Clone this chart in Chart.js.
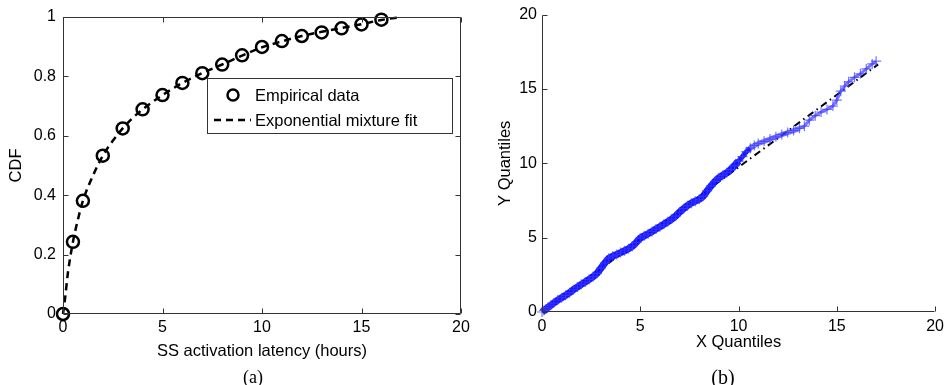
<!DOCTYPE html>
<html>
<head>
<meta charset="utf-8">
<script src="https://cdn.jsdelivr.net/npm/chart.js@4.4.1/dist/chart.umd.min.js"></script>
<style>
  html, body { margin: 0; padding: 0; background: #fff; }
  #wrap { position: relative; width: 949px; height: 385px; overflow: hidden; }
  .box { position: absolute; top: 0; height: 385px; }
  #leftBox { left: 0; width: 475px; }
  #rightBox { left: 475px; width: 474px; }
  .cap { position: absolute; font-family: "Liberation Serif", "Times New Roman", serif; color: #000; transform: translate(-50%, -50%); white-space: nowrap; }
</style>
</head>
<body>
<div id="wrap">
  <div class="box" id="leftBox"><canvas id="cdfChart"></canvas></div>
  <div class="box" id="rightBox"><canvas id="qqChart"></canvas></div>
  <div class="cap" style="left:253px; top:377px; font-size:18px;">(a)</div>
  <div class="cap" style="left:723px; top:377px; font-size:20px;">(b)</div>
</div>
<script>
// -------- DATA --------
// (a) empirical CDF of SS activation latency
const cdfX = [0, 0.5, 1, 2, 3, 4, 5, 6, 7, 8, 9, 10, 11, 12, 13, 14, 15, 16];
const cdfY = [0, 0.243, 0.381, 0.533, 0.625, 0.689, 0.737, 0.778, 0.811, 0.840, 0.871, 0.899, 0.919, 0.936, 0.948, 0.962, 0.975, 0.991];

// (a) exponential mixture fit
const fitX = [0, 0.1, 0.25, 0.5, 0.75, 1, 1.5, 2, 2.5, 3, 3.5, 4, 5, 6, 7, 8, 9, 10, 11, 12, 13, 14, 15, 16, 17];
const fitY = [0, 0.05, 0.14, 0.243, 0.318, 0.381, 0.465, 0.533, 0.583, 0.625, 0.66, 0.689, 0.737, 0.778, 0.811, 0.840, 0.870, 0.898, 0.918, 0.936, 0.950, 0.963, 0.976, 0.990, 1.0];

// (b) quantile-quantile points
const qqX = [0, 0.1, 0.2, 0.3, 0.45, 0.6, 0.8, 1.0, 1.2, 1.4, 1.6, 1.8, 2.0, 2.2, 2.4, 2.6, 2.8, 3.0,
  3.2, 3.4, 3.6, 3.8, 4.0, 4.2, 4.4, 4.6, 4.8, 5.0, 5.2, 5.4, 5.6, 5.8, 6.0, 6.2, 6.4, 6.6, 6.8,
  7.0, 7.2, 7.4, 7.6, 7.8, 8.0, 8.2, 8.4, 8.6, 8.8, 9.0, 9.2, 9.4, 9.6, 9.8, 10.0, 10.2, 10.4, 10.6,
  10.8, 11.0, 11.3, 11.6, 11.9, 12.2, 12.5, 12.8, 13.1, 13.35, 13.6, 13.9, 14.2, 14.5, 14.8, 15.0,
  15.2, 15.4, 15.6, 15.9, 16.2, 16.5, 16.8, 17.0];
const qqY = [0, 0.1, 0.2, 0.3, 0.45, 0.6, 0.8, 0.96, 1.12, 1.3, 1.5, 1.68, 1.86, 2.02, 2.2, 2.38, 2.6, 2.95,
  3.3, 3.62, 3.76, 3.86, 4.0, 4.12, 4.25, 4.42, 4.68, 4.97, 5.12, 5.26, 5.42, 5.58, 5.74, 5.9, 6.07, 6.25, 6.45,
  6.72, 6.95, 7.15, 7.32, 7.45, 7.58, 7.78, 8.14, 8.48, 8.78, 9.02, 9.2, 9.36, 9.58, 9.85, 10.15, 10.45, 10.78, 11.02,
  11.2, 11.33, 11.48, 11.63, 11.78, 11.93, 12.07, 12.2, 12.35, 12.5, 12.9, 13.2, 13.45, 13.62, 13.85, 14.25,
  14.85, 15.2, 15.48, 15.78, 16.02, 16.35, 16.68, 16.87];

// (b) reference line
const refX = [0, 17.1];
const refY = [0, 16.65];

const xTicksA = [0, 5, 10, 15, 20];
const yTicksA = [0, 0.2, 0.4, 0.6, 0.8, 1];
const ticksB = [0, 5, 10, 15, 20];

const sans = '"Liberation Sans", Arial, Helvetica, sans-serif';
const axisColor = '#333';

const toPoints = (xs, ys) => xs.map((x, i) => ({ x, y: ys[i] }));

// -------- PLUGINS --------
// MATLAB style inward ticks + axis lines
const innerTicks = {
  id: 'innerTicks',
  afterDraw(chart, args, opts) {
    const { ctx, chartArea: a, scales: { x, y } } = chart;
    const L = Math.round(a.left) + 0.5, R = Math.round(a.right) - 0.5;
    const T = Math.round(a.top) + 0.5, B = Math.round(a.bottom) - 0.5;
    ctx.save();
    ctx.strokeStyle = axisColor;
    ctx.lineWidth = 1;
    ctx.beginPath();
    if (opts.box) {
      ctx.rect(L, T, R - L, B - T);
    } else {
      ctx.moveTo(L, T); ctx.lineTo(L, B); ctx.lineTo(R, B);
    }
    x.ticks.forEach(t => {
      const px = Math.round(x.getPixelForValue(t.value)) + 0.5;
      ctx.moveTo(px, B); ctx.lineTo(px, B - opts.len);
      if (opts.box) { ctx.moveTo(px, T); ctx.lineTo(px, T + opts.len); }
    });
    y.ticks.forEach(t => {
      const py = Math.round(y.getPixelForValue(t.value)) + 0.5;
      ctx.moveTo(L, py); ctx.lineTo(L + opts.len, py);
      if (opts.box) { ctx.moveTo(R, py); ctx.lineTo(R - opts.len, py); }
    });
    ctx.stroke();
    ctx.restore();
  }
};

// boxed legend inside the plot
const boxLegend = {
  id: 'boxLegend',
  afterDraw(chart, args, opts) {
    if (!opts.rect) return;
    const { ctx } = chart;
    const [bx, by, bw, bh] = opts.rect;
    ctx.save();
    ctx.fillStyle = '#fff';
    ctx.fillRect(bx, by, bw, bh);
    ctx.strokeStyle = axisColor;
    ctx.lineWidth = 1;
    ctx.strokeRect(bx + 0.5, by + 0.5, bw, bh);

    const ds = chart.data.datasets;
    ctx.font = '16.5px ' + sans;
    ctx.fillStyle = '#000';
    ctx.textBaseline = 'middle';

    // row 1: marker
    const r1 = by + 17, r2 = by + 42;
    ctx.beginPath();
    ctx.lineWidth = ds[0].borderWidth;
    ctx.strokeStyle = ds[0].borderColor;
    ctx.arc(bx + 26, r1, ds[0].pointRadius - 0.5, 0, Math.PI * 2);
    ctx.stroke();
    ctx.fillText(ds[0].label, bx + 48, r1 + 1);

    // row 2: dashed line
    ctx.beginPath();
    ctx.lineWidth = ds[1].borderWidth;
    ctx.strokeStyle = ds[1].borderColor;
    ctx.setLineDash(ds[1].borderDash);
    ctx.moveTo(bx + 7, r2);
    ctx.lineTo(bx + 44, r2);
    ctx.stroke();
    ctx.setLineDash([]);
    ctx.fillText(ds[1].label, bx + 48, r2 + 1);
    ctx.restore();
  }
};

function axisOpts(min, max, ticks, title, fit, titlePad, tickPad) {
  return {
    type: 'linear',
    min, max,
    afterBuildTicks: s => { s.ticks = ticks.map(v => ({ value: v })); },
    afterFit: fit,
    grid: { display: false, drawTicks: false },
    border: { display: false },
    ticks: {
      padding: tickPad,
      color: '#000',
      font: { family: sans, size: 16 },
      maxRotation: 0,
      autoSkip: false,
      callback: v => String(v)
    },
    title: {
      display: true,
      text: title,
      color: '#000',
      font: { family: sans, size: 16.5 },
      padding: titlePad
    }
  };
}

// -------- (a) CDF CHART --------
const cdfChart = new Chart(document.getElementById('cdfChart'), {
  type: 'scatter',
  data: {
    datasets: [{
      label: 'Empirical data',
      data: toPoints(cdfX, cdfY),
      showLine: false,
      pointStyle: 'circle',
      pointRadius: 6,
      borderWidth: 2.5,
      borderColor: '#000',
      backgroundColor: 'rgba(0,0,0,0)',
      clip: false,
      order: 1
    }, {
      label: 'Exponential mixture fit',
      data: toPoints(fitX, fitY),
      showLine: true,
      pointRadius: 0,
      borderWidth: 2.5,
      borderColor: '#000',
      borderDash: [7, 5],
      cubicInterpolationMode: 'monotone',
      clip: 3,
      order: 2
    }]
  },
  options: {
    responsive: true,
    maintainAspectRatio: false,
    animation: false,
    layout: { padding: { left: 0, right: 14, top: 17, bottom: 0 } },
    scales: {
      x: axisOpts(0, 20, xTicksA, 'SS activation latency (hours)', s => { s.height = 71; }, { top: 0, bottom: 24 }, 4),
      y: axisOpts(0, 1, yTicksA, 'CDF', s => { s.width = 63; }, { top: 7, bottom: 0 }, 7)
    },
    plugins: {
      legend: { display: false },
      tooltip: { enabled: false },
      innerTicks: { box: true, len: 5 },
      boxLegend: { rect: [207, 78, 245, 55] }
    }
  },
  plugins: [innerTicks, boxLegend]
});

// -------- (b) QQ CHART --------
const qqChart = new Chart(document.getElementById('qqChart'), {
  type: 'scatter',
  data: {
    datasets: [{
      label: 'Quantiles',
      data: toPoints(qqX, qqY),
      showLine: true,
      borderColor: 'rgba(10,10,255,0.95)',
      segment: {
        borderWidth: ctx => ctx.p0.parsed.x < 10 ? 7 : (ctx.p0.parsed.x < 13 ? 5 : 3),
        borderColor: ctx => ctx.p0.parsed.x < 10.5 ? 'rgba(10,10,255,0.95)' : 'rgba(60,60,255,0.7)'
      },
      pointStyle: 'cross',
      pointRadius: 5,
      pointBorderWidth: 1.2,
      pointBorderColor: 'rgba(60,60,255,0.7)',
      clip: false,
      order: 1
    }, {
      label: 'Reference',
      data: toPoints(refX, refY),
      showLine: true,
      pointRadius: 0,
      borderWidth: 2,
      borderColor: '#000',
      borderDash: [7, 4, 1.5, 4],
      order: 2
    }]
  },
  options: {
    responsive: true,
    maintainAspectRatio: false,
    animation: false,
    layout: { padding: { left: 0, right: 11, top: 13, bottom: 0 } },
    scales: {
      x: axisOpts(0, 20, ticksB, 'X Quantiles', s => { s.height = 73; }, { top: 0, bottom: 33 }, 5),
      y: axisOpts(0, 20, ticksB, 'Y Quantiles', s => { s.width = 67; }, { top: 21, bottom: 0 }, 5)
    },
    plugins: {
      legend: { display: false },
      tooltip: { enabled: false },
      innerTicks: { box: false, len: 5 }
    }
  },
  plugins: [innerTicks, boxLegend]
});
</script>
</body>
</html>
